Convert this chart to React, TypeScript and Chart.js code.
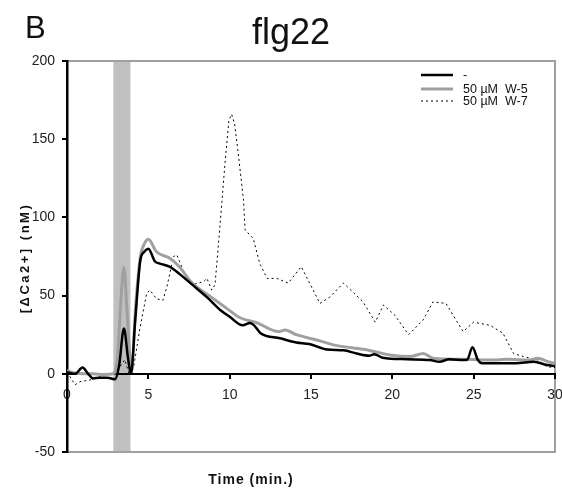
import React, { useEffect, useRef } from "react";
import { Chart, registerables } from "chart.js";

Chart.register(...registerables);

// ---- data ----
const CONTROL_T = [0, 0.5, 0.95, 1.3, 1.6, 2.0, 2.5, 2.95, 3.2, 3.5, 3.75, 3.93, 4.2, 4.5, 4.75, 5.0, 5.4, 5.7, 6.3, 6.9, 7.7, 8.6, 9.4, 10.0, 10.8, 11.25, 11.5, 11.9, 13.1, 14.1, 14.9, 16.0, 17.0, 17.8, 18.6, 18.9, 19.4, 20.9, 22.3, 22.9, 23.5, 24.4, 24.6, 24.93, 25.25, 25.5, 26.4, 27.6, 28.7, 29.5, 30];
const CONTROL_V = [1, 0, 4, 0, -3, -2.5, -2.5, -3.5, 5, 29, 10, 0, 35, 72, 78, 80, 72, 70.5, 68.5, 64, 57, 49, 41, 36.5, 31, 32.5, 31, 26, 22.7, 20, 19, 15.5, 15, 13, 11.6, 12.5, 10.3, 9.3, 8.8, 7.7, 9.3, 8.8, 9, 17, 9, 6.7, 6.7, 6.7, 7.7, 5.6, 5];

const W5_T = [0, 0.4, 1.0, 1.6, 2.3, 2.85, 3.1, 3.3, 3.5, 3.7, 3.97, 4.2, 4.5, 4.75, 5.0, 5.5, 6.3, 6.9, 7.7, 8.8, 9.8, 10.6, 11.7, 13.0, 13.4, 14.1, 15.35, 16.6, 18.2, 19.0, 19.85, 21.1, 21.9, 22.5, 24.4, 26.2, 27.0, 28.5, 28.9, 29.9, 30];
const W5_V = [2, 0.7, 0, 0, -0.5, 0, 10, 45, 68, 38, 1, 40, 74, 83, 86, 78, 74, 68.5, 58, 49.5, 42, 36, 32.5, 27, 28, 25, 21.6, 18, 15.7, 14, 12, 11, 13, 10, 9.3, 8.8, 9.3, 8.8, 9.9, 7, 7];

const W7_T = [0, 0.25, 0.5, 0.8, 1.4, 2.0, 2.85, 3.25, 3.55, 3.85, 4.1, 4.5, 4.9, 5.1, 5.5, 5.9, 6.15, 6.55, 6.75, 7.15, 7.75, 8.4, 8.6, 8.9, 9.1, 9.4, 9.7, 9.95, 10.12, 10.3, 10.55, 10.85, 10.95, 11.45, 11.85, 12.3, 12.9, 13.6, 14.4, 15.55, 16.15, 17.0, 18.2, 18.95, 19.45, 20.15, 21.0, 21.9, 22.5, 23.3, 24.35, 25.0, 26.0, 26.8, 27.45, 28.05, 28.9, 29.5, 30];
const W7_V = [1, -3, -7, -5, -4, -2, 0.3, 4.5, 9, -1, 4.5, 30, 51.5, 53.5, 48, 47, 56, 75, 76, 66, 57, 59, 61, 53.5, 57, 94, 133, 162, 166, 160, 139, 111, 92, 86.5, 70.5, 61, 61, 58, 68.5, 45, 49, 58, 46, 33, 44, 37.5, 25, 34.5, 46, 45, 27, 33, 31, 26, 13, 11, 9, 4.5, 4];

const SERIES_LABELS = ["-", "50 \u00b5M  W-5", "50 \u00b5M  W-7"];
const BAND = [2.85, 3.9];
const X_TICKS = [0, 5, 10, 15, 20, 25, 30];
const Y_TICKS = [-50, 0, 50, 100, 150, 200];
const TITLE = "flg22";
const PANEL = "B";
const X_TITLE = "Time (min.)";
const Y_TITLE = "[\u0394Ca2+] (nM)";

const FAMILY = '"Liberation Sans Narrow", "Liberation Sans", Arial, sans-serif';

const zip = (t: number[], v: number[]) => t.map((x, i) => ({ x, y: v[i] }));

const decor = {
  id: "decor",
  beforeDraw(chart: any) {
    const { ctx, chartArea: a, scales } = chart;
    const x = scales.x;
    ctx.save();
    ctx.fillStyle = "#c0c0c0";
    const x1 = x.getPixelForValue(BAND[0]);
    const x2 = x.getPixelForValue(BAND[1]);
    ctx.fillRect(x1, a.top, x2 - x1, a.bottom - a.top);
    ctx.strokeStyle = "#a0a0a0";
    ctx.lineWidth = 2;
    ctx.beginPath();
    ctx.moveTo(a.left, a.top);
    ctx.lineTo(a.right, a.top);
    ctx.lineTo(a.right, a.bottom);
    ctx.lineTo(a.left, a.bottom);
    ctx.stroke();
    ctx.restore();
  },
  afterDraw(chart: any) {
    const { ctx } = chart;
    ctx.save();
    ctx.fillStyle = "#111";
    ctx.textBaseline = "alphabetic";
    ctx.textAlign = "left";
    ctx.font = `31px ${FAMILY}`;
    ctx.fillText(PANEL, 25, 38);
    ctx.textAlign = "center";
    ctx.font = `36px ${FAMILY}`;
    ctx.fillText(TITLE, 291, 44);

    // axis titles
    ctx.textBaseline = "middle";
    ctx.font = `bold 14px ${FAMILY}`;
    (ctx as any).letterSpacing = "1px";
    ctx.fillText(X_TITLE, 251, 480);
    ctx.font = `bold 13px ${FAMILY}`;
    (ctx as any).letterSpacing = "2.5px";
    ctx.save();
    ctx.translate(25, 258);
    ctx.rotate(-Math.PI / 2);
    ctx.fillText(Y_TITLE, 0, 0);
    ctx.restore();
    (ctx as any).letterSpacing = "0px";

    // legend
    const rows = [75, 89, 101];
    ctx.font = `12.5px ${FAMILY}`;
    ctx.textAlign = "left";
    chart.data.datasets.forEach((ds: any, i: number) => {
      const y = rows[i];
      ctx.save();
      ctx.strokeStyle = ds.borderColor;
      ctx.lineWidth = ds.borderWidth;
      ctx.setLineDash(ds.borderDash || []);
      ctx.beginPath();
      ctx.moveTo(421, y);
      ctx.lineTo(453, y);
      ctx.stroke();
      ctx.restore();
      ctx.fillText(ds.label, 463, y + 1);
    });
    ctx.restore();
  },
};

export default function App() {
  const ref = useRef<HTMLCanvasElement>(null);
  useEffect(() => {
    if (!ref.current) return;
    const chart = new Chart(ref.current, {
      type: "line",
      data: {
        datasets: [
          {
            label: SERIES_LABELS[0],
            data: zip(CONTROL_T, CONTROL_V),
            borderColor: "#000000",
            borderWidth: 2.5,
            pointRadius: 0,
            cubicInterpolationMode: "monotone",
          },
          {
            label: SERIES_LABELS[1],
            data: zip(W5_T, W5_V),
            borderColor: "#a0a0a0",
            borderWidth: 3,
            pointRadius: 0,
            cubicInterpolationMode: "monotone",
          },
          {
            label: SERIES_LABELS[2],
            data: zip(W7_T, W7_V),
            borderColor: "#000000",
            borderWidth: 1,
            borderDash: [2, 3],
            pointRadius: 0,
            tension: 0,
          },
        ],
      },
      options: {
        animation: false,
        responsive: false,
        devicePixelRatio: 1,
        layout: { padding: { left: 0, right: 7, top: 61, bottom: 40 } },
        plugins: {
          legend: { display: false },
          title: { display: false },
          tooltip: { enabled: false },
        },
        scales: {
          x: {
            type: "linear",
            position: { y: 0 } as any,
            min: 0,
            max: 30,
            afterBuildTicks: (s: any) => {
              s.ticks = X_TICKS.map((v) => ({ value: v }));
            },
            afterFit: (s: any) => {
              s.paddingLeft = 0;
              s.paddingRight = 0;
            },
            ticks: {
              font: { family: FAMILY, size: 14 },
              color: "#222",
              padding: 9,
              maxRotation: 0,
            },
            border: { color: "#000", width: 2 },
            grid: { drawOnChartArea: false, drawTicks: true, tickLength: 4, color: "#000", lineWidth: 2 },
          },
          y: {
            type: "linear",
            position: "left",
            min: -50,
            max: 200,
            afterBuildTicks: (s: any) => {
              s.ticks = Y_TICKS.map((v) => ({ value: v }));
            },
            afterFit: (s: any) => {
              s.width = 67;
              s.paddingTop = 0;
              s.paddingBottom = 0;
            },
            ticks: {
              font: { family: FAMILY, size: 14 },
              color: "#222",
              padding: 7,
            },
            border: { color: "#000", width: 2.5 },
            grid: { drawOnChartArea: false, drawTicks: true, tickLength: 5, color: "#000", lineWidth: 2 },
          },
        },
      },
      plugins: [decor],
    });
    return () => chart.destroy();
  }, []);
  return (
    <div style={{ position: "fixed", left: 0, top: 0, width: 562, height: 492, background: "#fff" }}>
      <canvas ref={ref} width={562} height={492} />
    </div>
  );
}
